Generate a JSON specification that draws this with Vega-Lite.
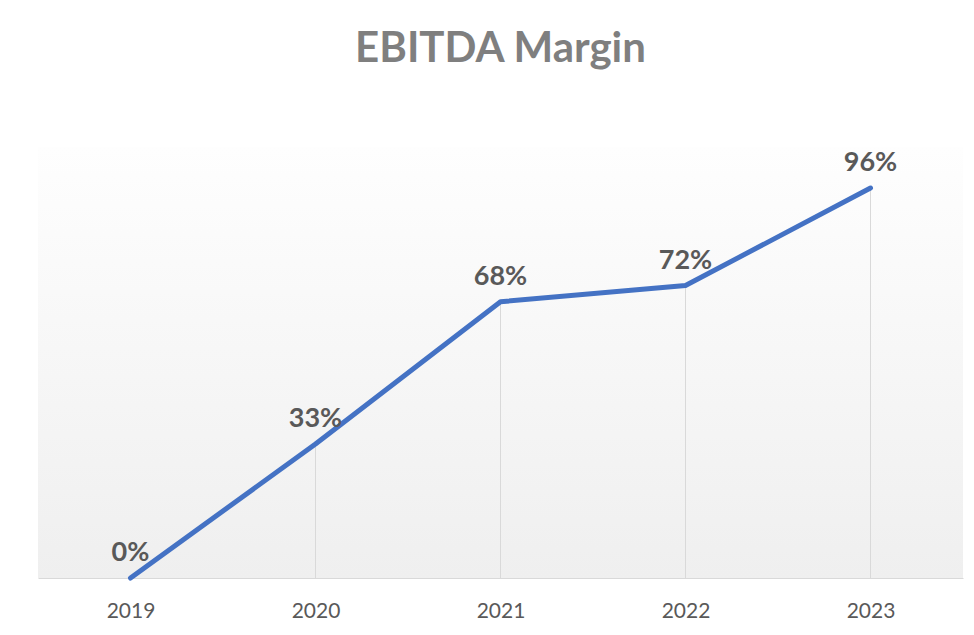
{
  "$schema": "https://vega.github.io/schema/vega-lite/v6.json",
  "width": 925,
  "height": 431,
  "autosize": {"type": "none"},
  "padding": {"left": 38, "top": 147, "right": 11, "bottom": 57},
  "background": "#ffffff",
  "title": {
    "text": "EBITDA Margin",
    "anchor": "middle",
    "font": "Lato",
    "fontSize": 42,
    "fontWeight": "bold",
    "color": "#7f7f7f",
    "baseline": "alphabetic",
    "offset": 43
  },
  "data": {
    "values": [
      {"year": "2019", "margin": 0.0, "label": "0%"},
      {"year": "2020", "margin": 0.33, "label": "33%"},
      {"year": "2021", "margin": 0.68, "label": "68%"},
      {"year": "2022", "margin": 0.72, "label": "72%"},
      {"year": "2023", "margin": 0.96, "label": "96%"}
    ]
  },
  "encoding": {
    "x": {
      "field": "year",
      "type": "ordinal",
      "scale": {"type": "point", "padding": 0.5},
      "axis": {
        "title": null,
        "labelAngle": 0,
        "ticks": false,
        "grid": false,
        "domainColor": "#d9d9d9",
        "domainWidth": 1,
        "labelFont": "Lato",
        "labelFontSize": 21,
        "labelColor": "#595959",
        "labelPadding": 22
      }
    },
    "y": {
      "field": "margin",
      "type": "quantitative",
      "scale": {"domain": [0, 1.061], "nice": false, "zero": true},
      "axis": null
    }
  },
  "layer": [
    {
      "mark": {"type": "rule", "color": "#d9d9d9", "strokeWidth": 1},
      "encoding": {"y2": {"datum": 0}}
    },
    {
      "mark": {"type": "line", "color": "#4472c4", "strokeWidth": 5, "strokeCap": "round", "strokeJoin": "round"}
    },
    {
      "mark": {"type": "text", "font": "Lato", "fontSize": 27, "fontWeight": "bold", "color": "#595959", "baseline": "alphabetic", "dy": -17},
      "encoding": {"text": {"field": "label"}}
    }
  ],
  "config": {
    "view": {
      "stroke": null,
      "fill": {
        "gradient": "linear",
        "x1": 0, "y1": 0, "x2": 0, "y2": 1,
        "stops": [
          {"offset": 0, "color": "#fefefe"},
          {"offset": 1, "color": "#efefef"}
        ]
      }
    }
  }
}
